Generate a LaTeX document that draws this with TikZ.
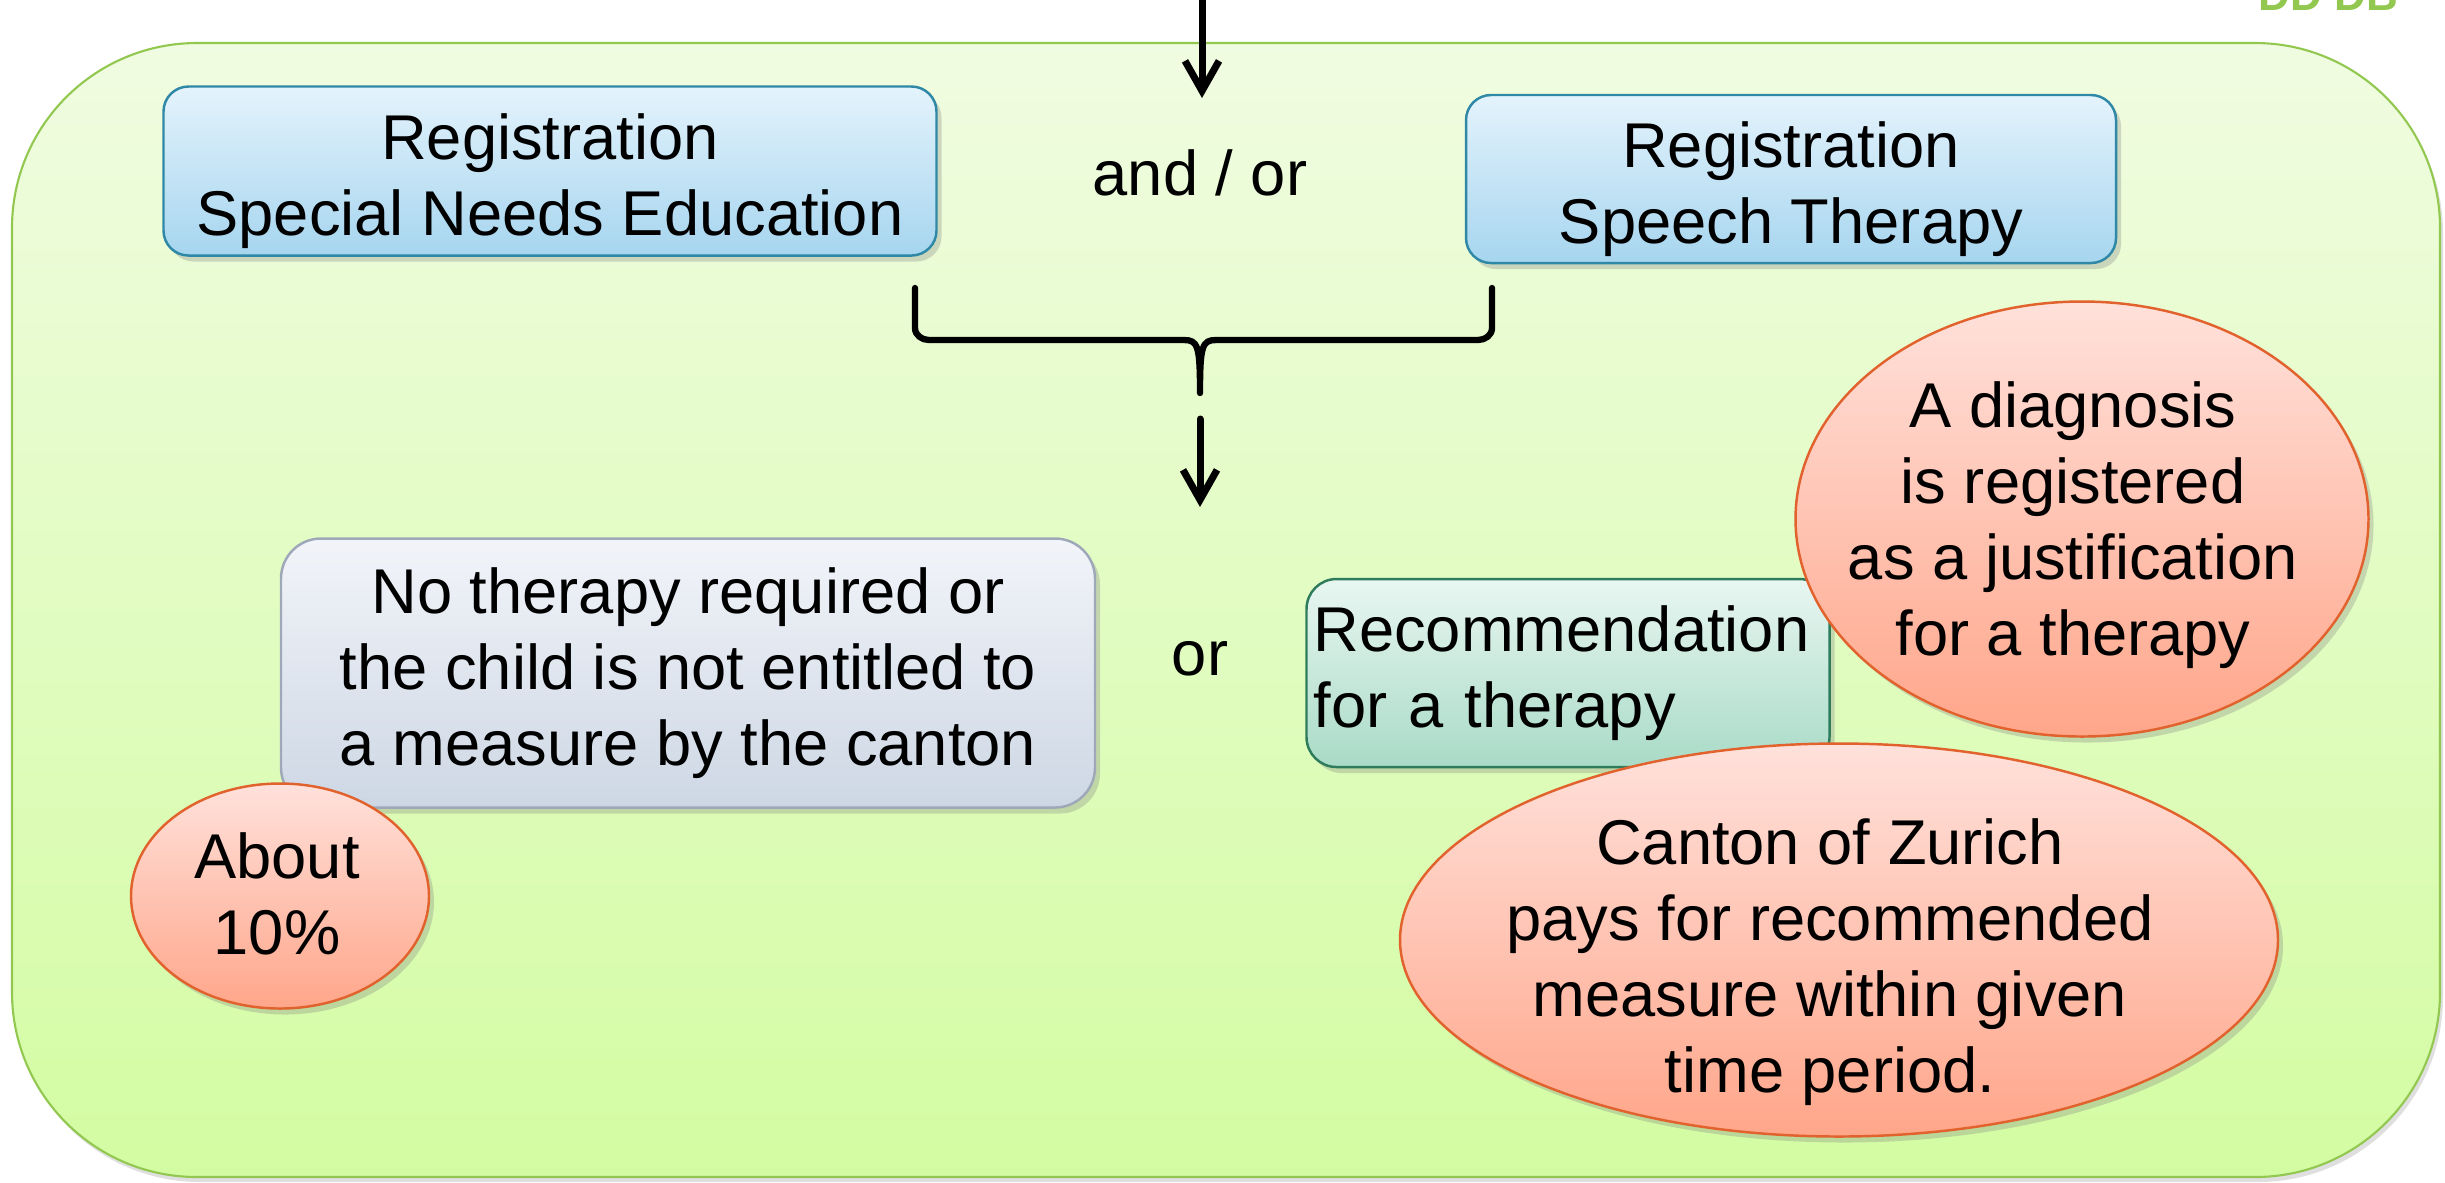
\documentclass[tikz,border=0pt]{standalone}
\usepackage{fontspec}
\setmainfont{Liberation Sans}
\usetikzlibrary{shapes.geometric, shadows, arrows.meta, calc}
\definecolor{ptop}{HTML}{F0FCE1}
\definecolor{pbot}{HTML}{D3FCA2}
\definecolor{pborder}{HTML}{92C850}
\definecolor{bluetop}{HTML}{E4F3FC}
\definecolor{bluebot}{HTML}{A6D5EF}
\definecolor{bluedraw}{HTML}{2E88A6}
\definecolor{greytop}{HTML}{F2F4F9}
\definecolor{greybot}{HTML}{CDD7E4}
\definecolor{greydraw}{HTML}{9EA8B8}
\definecolor{greentop}{HTML}{E8F6F1}
\definecolor{greenbot}{HTML}{A9DBC7}
\definecolor{greendraw}{HTML}{2F7C5C}
\definecolor{salmtop}{HTML}{FFE1DB}
\definecolor{salmbot}{HTML}{FFA68A}
\definecolor{salmdraw}{HTML}{E2622E}
\tikzset{
  % riquadro di fondo
  panel/.style={draw=pborder, line width=0.6pt, top color=ptop, bottom color=pbot,
    rounded corners=1.85cm, inner sep=0pt,
    drop shadow={shadow xshift=0.03cm, shadow yshift=-0.05cm, opacity=0.25}},
  % scatole con gradiente
  card/.style={line width=0.7pt, align=center, inner sep=0pt, rounded corners=0.25cm,
    drop shadow={shadow xshift=0.05cm, shadow yshift=-0.06cm, opacity=0.3}},
  card blue/.style={card, draw=bluedraw, top color=bluetop, bottom color=bluebot},
  card grey/.style={card, draw=greydraw, top color=greytop, bottom color=greybot,
    rounded corners=0.4cm},
  card green/.style={card, draw=greendraw, top color=greentop, bottom color=greenbot,
    rounded corners=0.3cm},
  % bolle (ellissi)
  bubble/.style={ellipse, draw=salmdraw, line width=0.7pt, top color=salmtop,
    bottom color=salmbot, inner sep=0pt,
    drop shadow={shadow xshift=0.05cm, shadow yshift=-0.06cm, opacity=0.3}},
  bubtext/.style={align=center, inner sep=0pt},
  % frecce e parentesi
  flow/.style={line width=2pt, line cap=round, -{Straight Barb[length=3mm, width=3.4mm]}},
  bracepath/.style={line width=1.8pt, line cap=round, line join=round},
  tagtext/.style={font=\fontsize{12.5}{15}\selectfont\bfseries, text=pborder,
    inner sep=0pt, anchor=base west},
}

\begin{document}
\begin{tikzpicture}[every node/.style={font=\fontsize{18}{21.6}\selectfont}]
  \useasboundingbox (0,0) rectangle (24.45,-11.82);
  \node[tagtext] (tag) at (22.58,-0.10) {DD DB};
  \node[panel, minimum width=24.28cm, minimum height=11.34cm] (panel) at (12.26,-6.10) {};

  % ingresso e parentesi
  \coordinate (entry) at (12.02,0.05);
  \coordinate (entryend) at (12.02,-0.98);
  \draw[flow] (entry) -- (entryend);
  \coordinate (bl) at (9.15,-2.88);
  \coordinate (br) at (14.92,-2.88);
  \coordinate (btip) at (12.00,-3.93);
  \coordinate (split) at (12.00,-5.07);
  \draw[bracepath] (bl) -- ++(0,-0.40) to[out=-90, in=180] ++(0.14,-0.12) -- (11.84,-3.40)
    .. controls (11.98,-3.40) and (12.00,-3.46) .. (btip)
    .. controls (12.00,-3.46) and (12.02,-3.40) .. (12.16,-3.40) -- (14.78,-3.40)
    to[out=0, in=-90] ($(br)+(0,-0.40)$) -- (br);
  \draw[flow, shorten <=0.26cm] (btip) -- (split);

  % registrazioni
  \node[card blue, minimum width=7.73cm, minimum height=1.69cm] (sne) at (5.50,-1.71)
    {\rule{0pt}{0.66cm}Registration\\Special Needs Education};
  \node (andor) at (12.00,-1.73) {and / or};
  \node[card blue, minimum width=6.50cm, minimum height=1.68cm] (speech) at (17.91,-1.79)
    {\rule{0pt}{0.66cm}Registration\\Speech Therapy};

  % esiti
  \node[card grey, minimum width=8.14cm, minimum height=2.69cm] (none) at (6.88,-6.73)
    {No therapy required or\\the child is not entitled to\\a measure by the canton};
  \node (or) at (12.00,-6.59) {or};
  \node[card green, minimum width=5.23cm, minimum height=1.88cm, text width=5.09cm,
    align=left] (recom) at (15.68,-6.73) {Recommendation\\for a therapy};

  % bolle
  \node[bubble, minimum width=2.98cm, minimum height=2.25cm] (about) at (2.80,-8.96) {};
  \node[bubtext] (abouttxt) at (2.77,-8.94) {About\\10\%};
  \node[bubble, minimum width=5.73cm, minimum height=4.35cm] (diag) at (20.82,-5.19) {};
  \node[bubtext] (diagtxt) at (20.73,-5.25)
    {A diagnosis\\is registered\\as a justification\\for a therapy};
  \node[bubble, minimum width=8.78cm, minimum height=3.93cm] (canton) at (18.39,-9.40) {};
  \node[bubtext] (cantontxt) at (18.30,-9.62)
    {Canton of Zurich\\pays for recommended\\measure within given\\time period.};
\end{tikzpicture}
\end{document}
